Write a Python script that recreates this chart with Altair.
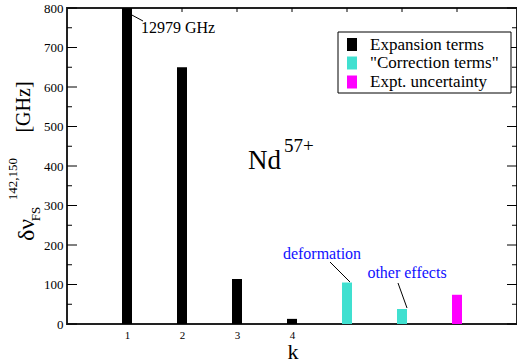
import altair as alt
import pandas as pd

# ---- data ----
k_values = [1, 2, 3, 4, 5, 6, 7]
bar_values = [12979, 650, 114, 13, 105, 38, 74]
bar_groups = ["Expansion terms"] * 4 + ['"Correction terms"'] * 2 + ["Expt.  uncertainty"]
legend_labels = ["Expansion terms", '"Correction terms"', "Expt.  uncertainty"]
legend_colors = ["#000000", "#40E0D0", "#FF00FF"]
x_tick_labels = [1, 2, 3, 4]
y_major = [0, 100, 200, 300, 400, 500, 600, 700, 800]
y_minor = [50, 150, 250, 350, 450, 550, 650, 750]
x_top_ticks = [1, 2, 3, 4, 5, 6, 7]

FONT = "Liberation Serif"
W, H = 450, 316

xs = alt.Scale(domain=[0, 8], nice=False, zero=False)
ys = alt.Scale(domain=[0, 800], nice=False)

x_axis = alt.Axis(values=x_tick_labels, ticks=False, tickSize=0, grid=False, domain=False, title=None,
                  labelFont=FONT, labelFontSize=11, labelColor="black", labelPadding=5, format="d")
y_axis = alt.Axis(values=y_major, ticks=False, tickSize=0, grid=False, domain=False, title=None,
                  labelFont=FONT, labelFontSize=13, labelColor="black", labelPadding=4, format="d")

df = pd.DataFrame({"k": k_values, "v": bar_values, "g": bar_groups})

bars = alt.Chart(df).mark_bar(size=10, clip=True).encode(
    x=alt.X("k:Q", scale=xs, axis=x_axis),
    y=alt.Y("v:Q", scale=ys, axis=y_axis),
    color=alt.Color("g:N", scale=alt.Scale(domain=legend_labels, range=legend_colors), legend=None),
)

def yticks(vals, x0, x1):
    return alt.Chart(pd.DataFrame({"y": vals})).mark_rule(color="black", strokeWidth=1).encode(
        y=alt.Y("y:Q", scale=ys, axis=y_axis), x=alt.value(x0), x2=alt.value(x1))

def xticks(vals, y0, y1):
    return alt.Chart(pd.DataFrame({"x": vals})).mark_rule(color="black", strokeWidth=1).encode(
        x=alt.X("x:Q", scale=xs, axis=x_axis), y=alt.value(y0), y2=alt.value(y1))

def txt(s, x, y, size, color="black", align="left", baseline="alphabetic", angle=0):
    return alt.Chart(pd.DataFrame({"t": [s]})).mark_text(
        font=FONT, fontSize=size, color=color, align=align, baseline=baseline, angle=angle
    ).encode(text="t:N", x=alt.value(x), y=alt.value(y))

def line(x0, y0, x1, y1):
    return alt.Chart(pd.DataFrame({"a": [0]})).mark_rule(color="black", strokeWidth=1).encode(
        x=alt.value(x0), y=alt.value(y0), x2=alt.value(x1), y2=alt.value(y1))

layers = [
    bars,
    yticks(y_major, 0, 10), yticks(y_minor, 0, 5),
    yticks(y_major, W - 10, W), yticks(y_minor, W - 5, W),
    xticks(x_top_ticks, 0, 4),
    # annotations
    txt("12979 GHz", 74, 25, 16),
    line(63, 6, 76, 13),
    txt("deformation", 255, 246, 16, color="#1010ff", align="center", baseline="middle"),
    line(263, 254, 283, 274),
    txt("other effects", 340, 265, 16, color="#1010ff", align="center", baseline="middle"),
    line(331, 275, 340, 300),
    txt("Nd", 181, 161, 27),
    txt("57+", 217, 144, 19),
    # axis titles
    txt("k", 226, 344, 22, align="center", baseline="middle"),
    txt("δν", -40, 222, 24, align="center", baseline="middle", angle=270),
    txt("FS", -31, 206, 13, align="center", baseline="middle", angle=270),
    txt("142,150", -54, 171, 13, align="center", baseline="middle", angle=270),
    txt("[GHz]", -43, 99, 20, align="center", baseline="middle", angle=270),
]

# legend (manual)
leg_rows = [36.5, 55, 74]
box = alt.Chart(pd.DataFrame({"a": [0]})).mark_rect(fill="white", stroke="black", strokeWidth=1).encode(
    x=alt.value(271), x2=alt.value(444), y=alt.value(24), y2=alt.value(85))
layers.append(box)
for lab, col, yy in zip(legend_labels, legend_colors, leg_rows):
    layers.append(alt.Chart(pd.DataFrame({"a": [0]})).mark_rect(fill=col).encode(
        x=alt.value(280), x2=alt.value(290), y=alt.value(yy - 6.5), y2=alt.value(yy + 6.5)))
    layers.append(txt(lab, 303, yy, 17, baseline="middle"))

chart = alt.layer(*layers).properties(
    width=W, height=H,
    background="white",
    autosize=alt.AutoSizeParams(type="none"),
    padding={"left": 67, "top": 8, "right": 0, "bottom": 40},
).configure_view(stroke="#222", strokeWidth=2)

chart.save("out.html", embed_options={"renderer": "svg", "actions": False})
